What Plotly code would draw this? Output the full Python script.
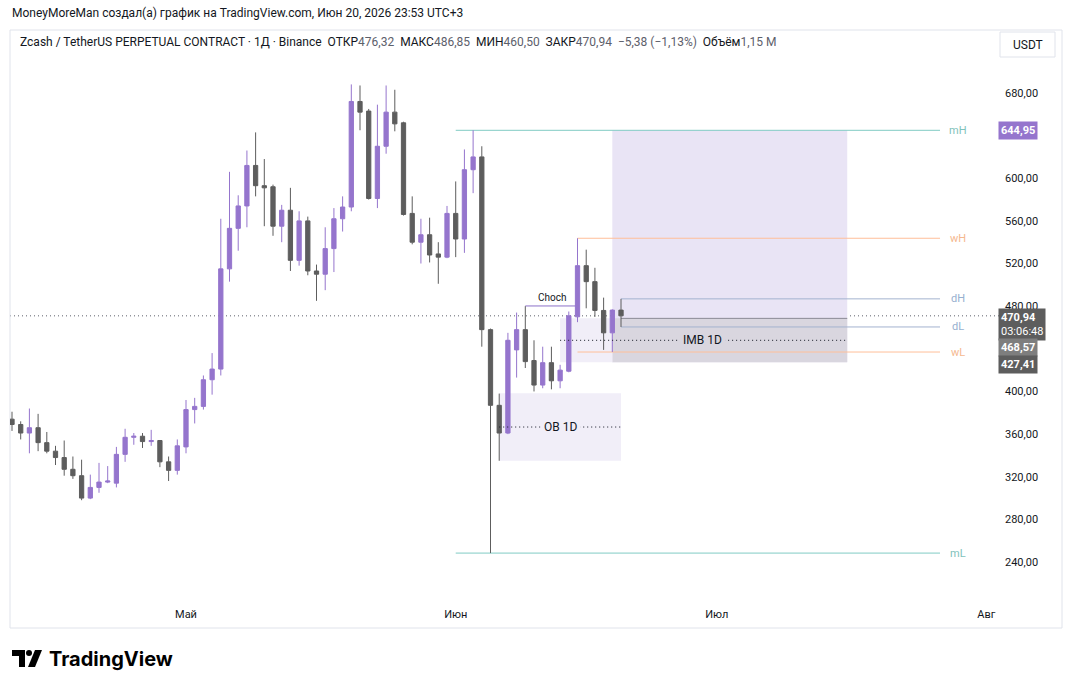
import plotly.graph_objects as go
import pandas as pd

# ---------------- data ----------------
start_date = "2026-04-11"
opens = [374, 369, 361, 366, 352, 344, 338, 327, 321, 300, 310, 315, 314, 341, 357, 358, 353, 354, 334, 326,
         348, 383, 386, 411, 421, 515, 553, 574, 612, 593, 592, 555, 570, 523, 560, 513, 510, 534, 562, 573,
         672, 663, 581, 630, 662, 652, 567, 540, 547, 529, 526, 567, 543, 608, 620, 458, 387, 361, 439, 458,
         429, 406, 427, 410, 419, 470, 518, 503, 476, 455, 476.32]
highs = [381, 372, 384, 379, 362, 349, 354, 339, 336, 322, 333, 330, 348, 365, 361, 361, 364, 354, 339, 355,
         392, 394, 415, 436, 562, 606, 584, 626, 643, 618, 594, 575, 591, 569, 564, 519, 554, 572, 583, 688,
         687, 665, 669, 687, 683, 653, 583, 562, 563, 540, 574, 597, 627, 644.95, 630, 459, 398, 455, 474, 480,
         448, 442, 442, 425, 475, 543.7, 533, 516, 488, 477, 486.85]
lows = [363, 355, 342, 344, 342, 331, 321, 318, 298, 299, 305, 314, 310, 334, 350, 347, 349, 329, 316, 322,
        342, 370, 383, 397, 415, 503, 532, 554, 583, 555, 546, 540, 513, 518, 509, 485, 495, 512, 550, 569,
        645, 580, 572, 623, 644, 565, 538, 520, 521, 501, 525, 526, 530, 586, 442, 248.4, 335, 360, 413, 422,
        400, 403, 402, 403, 418, 465, 478, 470, 439, 437, 460.50]
closes = [369, 361, 366, 352, 344, 338, 327, 321, 300, 310, 315, 316, 341, 357, 358, 353, 354, 334, 326, 349,
          383, 386, 411, 421, 515, 553, 574, 612, 593, 591, 555, 570, 523, 560, 513, 510, 534, 562, 573, 672,
          662, 581, 630, 662, 651, 566, 540, 547, 528, 526, 567, 543, 608, 620, 458, 387, 361, 448, 458, 428,
          406, 427, 410, 420, 471, 518, 503, 476, 455, 476.32, 470.94]

y_tick_values = [240, 280, 320, 360, 400, 480, 520, 560, 600, 680]
y_tick_labels = ["240,00", "280,00", "320,00", "360,00", "400,00", "480,00", "520,00", "560,00", "600,00", "680,00"]
x_tick_dates = ["2026-05-01", "2026-06-01", "2026-07-01", "2026-08-01"]
x_tick_labels = ["Май", "Июн", "Июл", "Авг"]

level_names = ["mH", "wH", "dH", "dL", "wL", "mL"]
level_values = [644.95, 543.7, 486.85, 460.50, 437.0, 248.4]
level_starts = ["2026-06-01", "2026-06-15", "2026-06-20", "2026-06-20", "2026-06-15", "2026-06-01"]
level_end = "2026-07-26 16:00"
level_label_date = "2026-07-28 18:00"

last_price = 470.94
countdown = "03:06:48"
target_high = 644.95
imb_low, imb_high = 427.41, 468.57
ob_low, ob_high = 335.0, 398.3
choch_value = 480.2
choch_start, choch_end = "2026-06-09", "2026-06-15"
ob_start, ob_end = "2026-06-06", "2026-06-20"
imb_start, zone_start, zone_end = "2026-06-13", "2026-06-19", "2026-07-16"
choch_label_date = "2026-06-12 02:00"
ob_label_date = "2026-06-13 02:00"
imb_label_date = "2026-06-29 10:00"

header_symbol = "Zcash / TetherUS PERPETUAL CONTRACT · 1Д · Binance"
header_fields = [("ОТКР", "476,32"), ("МАКС", "486,85"), ("МИН", "460,50"), ("ЗАКР", "470,94")]
header_change = "−5,38 (−1,13%)"
header_volume = ("Объём", "1,15 M")
title_text = "MoneyMoreMan создал(а) график на TradingView.com, Июн 20, 2026 23:53 UTC+3"

# ---------------- styles ----------------
UP = "#9575cd"
DOWN = "#5d5d5d"
TXT = "#131722"
FONT = "Roboto"
level_colors = {"mH": "#80cbc4", "mL": "#80cbc4", "wH": "#ffbf99", "wL": "#ffbf99",
                "dH": "#a3b3cf", "dL": "#a3b3cf"}
level_text_colors = {"mH": "#7fc2bb", "mL": "#7fc2bb", "wH": "#f5b88f", "wL": "#f5b88f",
                     "dH": "#97b0cf", "dL": "#97b0cf"}

W, H = 1072, 688
ML, MR, MT, MB = 10, 72, 60, 88
PW, PH = W - ML - MR, H - MT - MB


def px(xp):
    return (xp - ML) / PW


def py(yp):
    return (H - MB - yp) / PH


dates = pd.date_range(start_date, periods=len(opens), freq="D")

fig = go.Figure()
fig.add_trace(go.Candlestick(
    x=dates, open=opens, high=highs, low=lows, close=closes,
    increasing=dict(line=dict(color=UP, width=1), fillcolor=UP),
    decreasing=dict(line=dict(color=DOWN, width=1), fillcolor=DOWN),
    whiskerwidth=0, showlegend=False, hoverinfo="skip",
))

shapes = []
# zones (drawn under candles)
shapes.append(dict(type="rect", xref="x", yref="y", x0=zone_start, x1=zone_end, y0=imb_low, y1=target_high,
                   fillcolor="#e9e4f5", line=dict(width=0), layer="below"))
shapes.append(dict(type="rect", xref="x", yref="y", x0=zone_start, x1=zone_end, y0=imb_low, y1=imb_high,
                   fillcolor="#d9d6df", line=dict(width=0), layer="below"))
shapes.append(dict(type="rect", xref="x", yref="y", x0=imb_start, x1=zone_start, y0=imb_low, y1=imb_high,
                   fillcolor="#f1eef8", line=dict(width=0), layer="below"))
shapes.append(dict(type="rect", xref="x", yref="y", x0=ob_start, x1=ob_end, y0=ob_low, y1=ob_high,
                   fillcolor="#f1eef8", line=dict(width=0), layer="below"))
# IMB top edge
shapes.append(dict(type="line", xref="x", yref="y", x0="2026-06-20", x1=zone_end, y0=imb_high, y1=imb_high,
                   line=dict(color="#8a8a95", width=1), layer="below"))
# mid dotted lines
shapes.append(dict(type="line", xref="x", yref="y", x0=imb_start, x1=zone_end,
                   y0=(imb_low + imb_high) / 2, y1=(imb_low + imb_high) / 2,
                   line=dict(color=TXT, width=1, dash="1px,3px"), layer="above"))
shapes.append(dict(type="line", xref="x", yref="y", x0=ob_start, x1=ob_end,
                   y0=(ob_low + ob_high) / 2, y1=(ob_low + ob_high) / 2,
                   line=dict(color=TXT, width=1, dash="1px,3px"), layer="above"))
# key levels
for name, val, st in zip(level_names, level_values, level_starts):
    shapes.append(dict(type="line", xref="x", yref="y", x0=st, x1=level_end, y0=val, y1=val,
                       line=dict(color=level_colors[name], width=1), layer="below"))
# choch
shapes.append(dict(type="line", xref="x", yref="y", x0=choch_start, x1=choch_end, y0=choch_value, y1=choch_value,
                   line=dict(color="#8c70c8", width=1), layer="below"))
# last price dotted line
shapes.append(dict(type="line", xref="paper", yref="y", x0=0, x1=1, y0=last_price, y1=last_price,
                   line=dict(color="#5d606b", width=1, dash="1px,3px"), layer="below"))
# frame
shapes.append(dict(type="rect", xref="paper", yref="paper", x0=px(10), x1=px(1062), y0=py(628), y1=py(30),
                   line=dict(color="#e0e3eb", width=1), fillcolor="rgba(0,0,0,0)", layer="below"))
# USDT button
shapes.append(dict(type="rect", xref="paper", yref="paper", x0=px(1000), x1=px(1055), y0=py(57), y1=py(32),
                   line=dict(color="#e0e3eb", width=1), fillcolor="white", layer="above"))
# TradingView logo glyph
shapes.append(dict(type="path", xref="paper", yref="paper",
                   path=f"M {px(12)},{py(650)} L {px(25)},{py(650)} L {px(25)},{py(667)} L {px(19)},{py(667)} "
                        f"L {px(19)},{py(656)} L {px(12)},{py(656)} Z",
                   fillcolor="#000", line=dict(width=0)))
shapes.append(dict(type="circle", xref="paper", yref="paper", x0=px(26), x1=px(32), y0=py(656), y1=py(650),
                   fillcolor="#000", line=dict(width=0)))
shapes.append(dict(type="path", xref="paper", yref="paper",
                   path=f"M {px(35)},{py(650)} L {px(42)},{py(650)} L {px(35)},{py(667)} L {px(28)},{py(667)} Z",
                   fillcolor="#000", line=dict(width=0)))

annotations = []
# title
annotations.append(dict(xref="paper", yref="paper", x=px(10), y=py(13), xanchor="left", yanchor="middle",
                        text=title_text, showarrow=False, font=dict(family=FONT, size=12, color=TXT)))
# header line
val_col = "#5d606b"
parts = [header_symbol, "  "]
for lab, v in header_fields:
    parts.append(f"{lab}<span style='color:{val_col}'>{v}</span>  ")
parts.append(f"<span style='color:{val_col}'>{header_change}</span>  ")
parts.append(f"{header_volume[0]}<span style='color:{val_col}'>{header_volume[1]}</span>")
annotations.append(dict(xref="paper", yref="paper", x=px(18), y=py(42), xanchor="left", yanchor="middle",
                        text="".join(parts), showarrow=False, font=dict(family=FONT, size=12, color=TXT)))
annotations.append(dict(xref="paper", yref="paper", x=px(1027.5), y=py(44.5), xanchor="center", yanchor="middle",
                        text="USDT", showarrow=False, font=dict(family=FONT, size=12, color=TXT)))
# level labels
for name, val in zip(level_names, level_values):
    annotations.append(dict(xref="x", yref="y", x=level_label_date, y=val, text=name, showarrow=False,
                            xanchor="center", yanchor="middle",
                            font=dict(family=FONT, size=11, color=level_text_colors[name])))
# choch label
annotations.append(dict(xref="x", yref="y", x=choch_label_date, y=choch_value, yshift=8, text="Choch",
                        showarrow=False, font=dict(family=FONT, size=10, color=TXT)))
# OB / IMB labels
annotations.append(dict(xref="x", yref="y", x=ob_label_date, y=(ob_low + ob_high) / 2, text="OB 1D",
                        showarrow=False, bgcolor="#f1eef8", borderpad=3,
                        font=dict(family=FONT, size=12, color=TXT)))
annotations.append(dict(xref="x", yref="y", x=imb_label_date, y=(imb_low + imb_high) / 2, text="IMB 1D",
                        showarrow=False, bgcolor="#d9d6df", borderpad=3,
                        font=dict(family=FONT, size=12, color=TXT)))
# price-scale labels
annotations.append(dict(xref="paper", yref="y", x=px(998), y=target_high, xanchor="left", yanchor="middle",
                        text="<b>644,95</b>", showarrow=False, bgcolor=UP, borderpad=2,
                        font=dict(family=FONT, size=11, color="white")))
annotations.append(dict(xref="paper", yref="y", x=px(998), y=last_price, yshift=8, xanchor="left", yanchor="top",
                        text=f"<b>470,94</b><br>{countdown}", showarrow=False, bgcolor="#5d5d5d", borderpad=2,
                        align="left", font=dict(family=FONT, size=11, color="white")))
annotations.append(dict(xref="paper", yref="y", x=px(998), y=imb_high, yshift=-29, xanchor="left", yanchor="middle",
                        text="<b>468,57</b>", showarrow=False, bgcolor="#7e7e7e", borderpad=2,
                        font=dict(family=FONT, size=11, color="white")))
annotations.append(dict(xref="paper", yref="y", x=px(998), y=imb_low, yshift=-2, xanchor="left", yanchor="middle",
                        text="<b>427,41</b>", showarrow=False, bgcolor="#5d5d5d", borderpad=2,
                        font=dict(family=FONT, size=11, color="white")))
# TradingView wordmark
annotations.append(dict(xref="paper", yref="paper", x=px(47), y=py(658.5), xanchor="left", yanchor="middle",
                        text="<b>TradingView</b>", showarrow=False,
                        font=dict(family="Inter", size=20, color="#000")))

fig.update_layout(
    width=W, height=H, margin=dict(l=ML, r=MR, t=MT, b=MB),
    paper_bgcolor="white", plot_bgcolor="white",
    showlegend=False, shapes=shapes, annotations=annotations,
    font=dict(family=FONT, size=11, color=TXT),
    xaxis=dict(type="date", range=["2026-04-10 18:29", "2026-08-02 13:27"], rangeslider=dict(visible=False),
               showgrid=False, zeroline=False, showline=False, tickvals=x_tick_dates, ticktext=x_tick_labels,
               ticks="", tickfont=dict(size=11, color=TXT), ticklabelstandoff=6),
    yaxis=dict(side="right", range=[204.4, 710.9], showgrid=False, zeroline=False, showline=False,
               tickvals=y_tick_values, ticktext=y_tick_labels, ticks="", ticklabelstandoff=4,
               tickfont=dict(size=11, color=TXT)),
)

fig.write_html("out.html")
